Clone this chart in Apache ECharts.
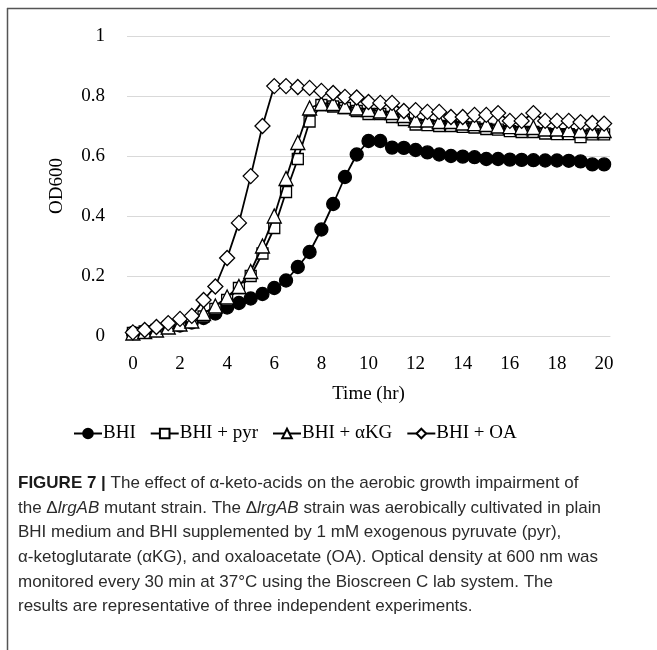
<!DOCTYPE html>
<html>
<head>
<meta charset="utf-8">
<script src="https://cdn.jsdelivr.net/npm/echarts@6/dist/echarts.min.js"></script>
<style>
html,body{margin:0;padding:0;background:#fff;}
#chart{width:657px;height:650px;}
</style>
</head>
<body>
<div id="chart"></div>
<script>
// Time points (hr), every 30 min
var timeHr = ['0','0.5','1','1.5','2','2.5','3','3.5','4','4.5','5','5.5','6','6.5','7','7.5','8','8.5','9','9.5','10',
  '10.5','11','11.5','12','12.5','13','13.5','14','14.5','15','15.5','16','16.5','17','17.5','18','18.5','19','19.5','20'];

var seriesNames = ['BHI', 'BHI + pyr', 'BHI + \u03b1KG', 'BHI + OA'];

var bhi = [0.01,0.015,0.02,0.03,0.035,0.045,0.06,0.075,0.095,0.11,0.125,0.14,0.16,0.185,0.23,0.28,0.355,0.44,0.53,0.605,0.65,
  0.65,0.628,0.627,0.62,0.612,0.605,0.6,0.598,0.596,0.59,0.59,0.588,0.587,0.586,0.585,0.585,0.584,0.582,0.572,0.572];

var pyr = [0.01,0.015,0.02,0.03,0.04,0.05,0.065,0.09,0.12,0.16,0.2,0.275,0.36,0.48,0.59,0.715,0.77,0.765,0.76,0.75,0.74,
  0.74,0.73,0.72,0.705,0.703,0.7,0.7,0.697,0.695,0.69,0.688,0.683,0.68,0.68,0.675,0.673,0.673,0.663,0.672,0.672];

var akg = [0.01,0.015,0.02,0.03,0.04,0.05,0.075,0.1,0.13,0.165,0.215,0.3,0.4,0.525,0.645,0.76,0.775,0.775,0.765,0.76,0.755,
  0.75,0.745,0.735,0.72,0.72,0.715,0.715,0.71,0.708,0.705,0.7,0.698,0.695,0.695,0.69,0.69,0.688,0.685,0.685,0.685];

var oa = [0.012,0.02,0.03,0.043,0.057,0.067,0.12,0.165,0.26,0.377,0.533,0.7,0.833,0.833,0.83,0.827,0.817,0.81,0.797,0.795,0.78,
  0.777,0.777,0.75,0.753,0.747,0.747,0.73,0.73,0.737,0.737,0.743,0.717,0.717,0.743,0.717,0.717,0.717,0.713,0.71,0.708];

var yTicks = [0, 0.2, 0.4, 0.6, 0.8, 1];

var captionLines = [
  '{b|FIGURE 7 |} The effect of \u03b1-keto-acids on the aerobic growth impairment of',
  'the \u0394{i|lrgAB} mutant strain. The \u0394{i|lrgAB} strain was aerobically cultivated in plain',
  'BHI medium and BHI supplemented by 1 mM exogenous pyruvate (pyr),',
  '\u03b1-ketoglutarate (\u03b1KG), and oxaloacetate (OA). Optical density at 600 nm was',
  'monitored every 30 min at 37\u00b0C using the Bioscreen C lab system. The',
  'results are representative of three independent experiments.'
];

var serif = '"Liberation Serif", "Times New Roman", serif';
var sans = '"Liberation Sans", Arial, sans-serif';

var chart = echarts.init(document.getElementById('chart'), null, {renderer: 'canvas'});

function mk(name, data, symbol, size, fill, z) {
  return {
    name: name, type: 'line', data: data, symbol: symbol, symbolSize: size,
    showAllSymbol: true, z: z,
    lineStyle: {color: '#000', width: 1.8},
    itemStyle: {color: fill, borderColor: '#000', borderWidth: 1.3},
    emphasis: {disabled: true}
  };
}

var graphics = [
  {type: 'line', shape: {x1: 7, y1: 8.5, x2: 657, y2: 8.5}, style: {stroke: '#555', lineWidth: 1.5}},
  {type: 'line', shape: {x1: 7.5, y1: 8, x2: 7.5, y2: 650}, style: {stroke: '#555', lineWidth: 1.5}}
];
var capTop = 475, capStep = 24.6;
captionLines.forEach(function (t, i) {
  graphics.push({
    type: 'text', x: 18, y: capTop + i * capStep,
    style: {
      text: t, x: 0, y: 0, fontFamily: sans, fontSize: 17, fill: '#2b2b2b',
      rich: {
        b: {fontFamily: sans, fontSize: 17, fontWeight: 'bold', fill: '#1a1a1a'},
        i: {fontFamily: sans, fontSize: 17, fontStyle: 'italic', fill: '#2b2b2b'}
      }
    }
  });
});

chart.setOption({
  animation: false,
  backgroundColor: '#fff',
  grid: {left: 127, right: 47, top: 36, bottom: 314, containLabel: false},
  xAxis: {
    type: 'category', data: timeHr, boundaryGap: true,
    name: 'Time (hr)', nameLocation: 'middle', nameGap: 49,
    nameTextStyle: {fontFamily: serif, fontSize: 19, color: '#000'},
    axisLine: {show: true, lineStyle: {color: '#d9d9d9', width: 1}},
    axisTick: {show: false},
    axisLabel: {interval: 3, margin: 19, fontFamily: serif, fontSize: 19, color: '#000'},
    splitLine: {show: false}
  },
  yAxis: {
    type: 'value', min: yTicks[0], max: yTicks[yTicks.length - 1], interval: 0.2,
    name: 'OD600', nameLocation: 'middle', nameGap: 60,
    nameTextStyle: {fontFamily: serif, fontSize: 19, color: '#000'},
    axisLine: {show: false}, axisTick: {show: false},
    axisLabel: {margin: 22, fontFamily: serif, fontSize: 19, color: '#000'},
    splitLine: {show: true, lineStyle: {color: '#d9d9d9', width: 1}}
  },
  legend: {
    left: 68, top: 419, itemGap: 14, itemWidth: 28, itemHeight: 12,
    textStyle: {fontFamily: serif, fontSize: 19, color: '#000', padding: [0, 0, 0, -4]},
    data: seriesNames
  },
  graphic: graphics,
  series: [
    mk(seriesNames[0], bhi, 'circle', 13, '#000', 2),
    mk(seriesNames[1], pyr, 'rect', 11, '#fff', 3),
    mk(seriesNames[2], akg, 'triangle', 14, '#fff', 4),
    mk(seriesNames[3], oa, 'diamond', 15, '#fff', 5)
  ]
});
</script>
</body>
</html>
